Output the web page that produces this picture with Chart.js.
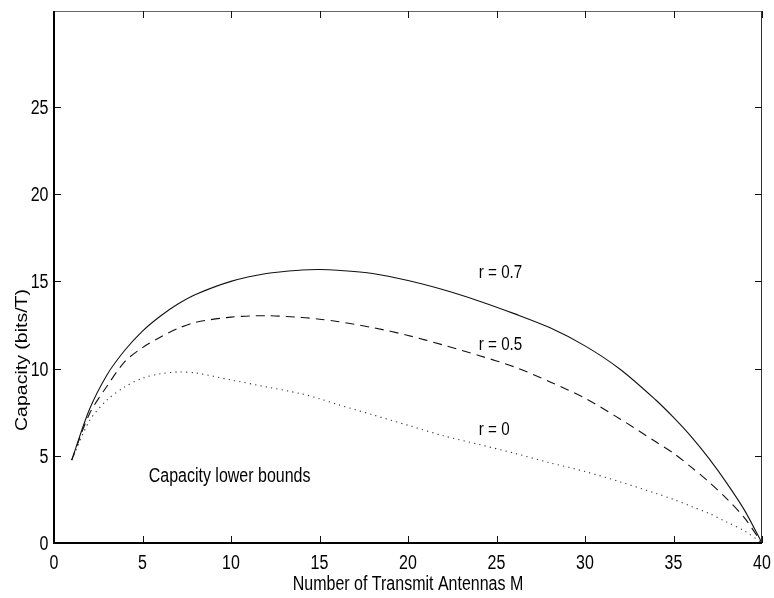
<!DOCTYPE html>
<html>
<head>
<meta charset="utf-8">
<script src="https://cdn.jsdelivr.net/npm/chart.js@4/dist/chart.umd.min.js"></script>
<style>
  html, body { margin: 0; padding: 0; background: #fff; }
  #wrap { width: 774px; height: 598px; position: relative; }
</style>
</head>
<body>
<div id="wrap"><canvas id="cap"></canvas></div>
<script>
// antenna counts where the curves were sampled
const M = [1, 2, 3, 4, 5, 6, 7, 8, 10, 12, 14, 15, 16, 18, 20, 22, 24, 26, 28, 30, 32, 34, 35, 36, 37, 38, 39, 40];
const cap07 = [4.75, 7.65, 9.65, 11.05, 12.15, 13.0, 13.7, 14.25, 15.0, 15.45, 15.65, 15.68, 15.64, 15.45, 15.05, 14.52, 13.88, 13.15, 12.35, 11.3, 9.95, 8.2, 7.2, 6.1, 4.85, 3.45, 1.9, 0];
const cap05 = [4.75, 7.4, 9.0, 10.4, 11.2, 11.8, 12.3, 12.65, 12.95, 13.03, 12.93, 12.83, 12.7, 12.35, 11.9, 11.35, 10.75, 10.1, 9.25, 8.3, 7.1, 5.8, 5.15, 4.35, 3.5, 2.55, 1.45, 0];
const cap00 = [4.75, 7.0, 8.2, 8.95, 9.45, 9.7, 9.8, 9.75, 9.35, 8.95, 8.55, 8.27, 7.95, 7.35, 6.75, 6.15, 5.65, 5.15, 4.6, 4.1, 3.5, 2.85, 2.5, 2.1, 1.7, 1.2, 0.7, 0];

const xTicks = [0, 5, 10, 15, 20, 25, 30, 35, 40];
const yTicks = [0, 5, 10, 15, 20, 25];

// curve labels: [text, M, capacity, font size]
const notes = [
  ['r = 0.7', 24, 15.5, 18.5],
  ['r = 0.5', 24, 11.35, 18.5],
  ['r = 0', 24, 6.5, 18.5],
  ['Capacity lower bounds', 5.35, 3.8, 19.5],
];
const xTitle = 'Number of Transmit Antennas M';
const yTitle = 'Capacity (bits/T)';

const SANS = '"Liberation Sans", Arial, Helvetica, sans-serif';
const SQ = 0.82; // condensed text

const pts = ys => M.map((m, i) => ({ x: m, y: ys[i] }));

function narrowText(ctx, txt, x, y, size, align) {
  ctx.save();
  ctx.font = size + 'px ' + SANS;
  const w = ctx.measureText(txt).width * SQ;
  const left = align === 'center' ? x - w / 2 : align === 'right' ? x - w : x;
  ctx.translate(left, y);
  ctx.scale(SQ, 1);
  ctx.textAlign = 'left';
  ctx.fillText(txt, 0, 0);
  ctx.restore();
}

// box, inward ticks, labels
const frame = {
  id: 'frame',
  afterDatasetsDraw(chart) {
    const { ctx, chartArea: a, scales: { x, y } } = chart;
    const T = 7;
    ctx.save();
    ctx.lineWidth = 1;
    ctx.strokeStyle = '#666';
    ctx.beginPath(); ctx.moveTo(a.left, a.top + 0.5); ctx.lineTo(a.right, a.top + 0.5); ctx.stroke();
    ctx.strokeStyle = '#333';
    ctx.beginPath(); ctx.moveTo(a.right - 0.5, a.top); ctx.lineTo(a.right - 0.5, a.bottom); ctx.stroke();

    ctx.strokeStyle = '#111';
    ctx.beginPath();
    x.ticks.forEach(t => {
      const px = Math.round(x.getPixelForValue(t.value)) + 0.5;
      ctx.moveTo(px, a.bottom); ctx.lineTo(px, a.bottom - T);
      ctx.moveTo(px, a.top); ctx.lineTo(px, a.top + T);
    });
    y.ticks.forEach(t => {
      const py = Math.round(y.getPixelForValue(t.value)) + 0.5;
      ctx.moveTo(a.left, py); ctx.lineTo(a.left + T, py);
      ctx.moveTo(a.right, py); ctx.lineTo(a.right - T, py);
    });
    ctx.stroke();

    ctx.lineWidth = 2;
    ctx.strokeStyle = '#000';
    ctx.beginPath();
    ctx.moveTo(a.left, a.top); ctx.lineTo(a.left, a.bottom); ctx.lineTo(a.right, a.bottom);
    ctx.stroke();

    ctx.fillStyle = '#000';
    ctx.textBaseline = 'alphabetic';
    x.ticks.forEach(t => narrowText(ctx, String(t.value), x.getPixelForValue(t.value), a.bottom + 26, 19.5, 'center'));
    y.ticks.forEach(t => narrowText(ctx, String(t.value), a.left - 5.5, y.getPixelForValue(t.value) + 7, 19.5, 'right'));
    narrowText(ctx, xTitle, (a.left + a.right) / 2, a.bottom + 47, 19.5, 'center');

    ctx.textBaseline = 'middle';
    notes.forEach(([txt, m, c, size]) => narrowText(ctx, txt, x.getPixelForValue(m), y.getPixelForValue(c), size, 'left'));

    ctx.translate(23, 360);
    ctx.rotate(-Math.PI / 2);
    ctx.scale(1, SQ);
    ctx.font = '19.5px ' + SANS;
    ctx.textAlign = 'center';
    ctx.fillText(yTitle, 0, 0);
    ctx.restore();
  }
};

new Chart(document.getElementById('cap'), {
  type: 'line',
  data: {
    datasets: [
      { label: 'r = 0.7', data: pts(cap07), borderColor: '#111', borderWidth: 1.1, pointRadius: 0, tension: 0.3 },
      { label: 'r = 0.5', data: pts(cap05), borderColor: '#111', borderWidth: 1.1, borderDash: [9, 6], pointRadius: 0, tension: 0.3 },
      { label: 'r = 0', data: pts(cap00), borderColor: '#333', borderWidth: 1.1, borderDash: [1.2, 4.2], pointRadius: 0, tension: 0.3 },
    ]
  },
  options: {
    responsive: true, maintainAspectRatio: false, animation: false,
    layout: { padding: { left: 0, top: 11, right: 12, bottom: 0 } },
    plugins: { legend: { display: false }, tooltip: { enabled: false } },
    scales: {
      x: {
        type: 'linear', min: 0, max: 40,
        afterBuildTicks: s => { s.ticks = xTicks.map(v => ({ value: v })); },
        afterFit: s => { s.height = 55; },
        grid: { display: false, drawTicks: false }, border: { display: false },
        ticks: { display: false }
      },
      y: {
        type: 'linear', min: 0, max: 30.5,
        afterBuildTicks: s => { s.ticks = yTicks.map(v => ({ value: v })); },
        afterFit: s => { s.width = 54; },
        grid: { display: false, drawTicks: false }, border: { display: false },
        ticks: { display: false }
      }
    }
  },
  plugins: [frame]
});
</script>
</body>
</html>
